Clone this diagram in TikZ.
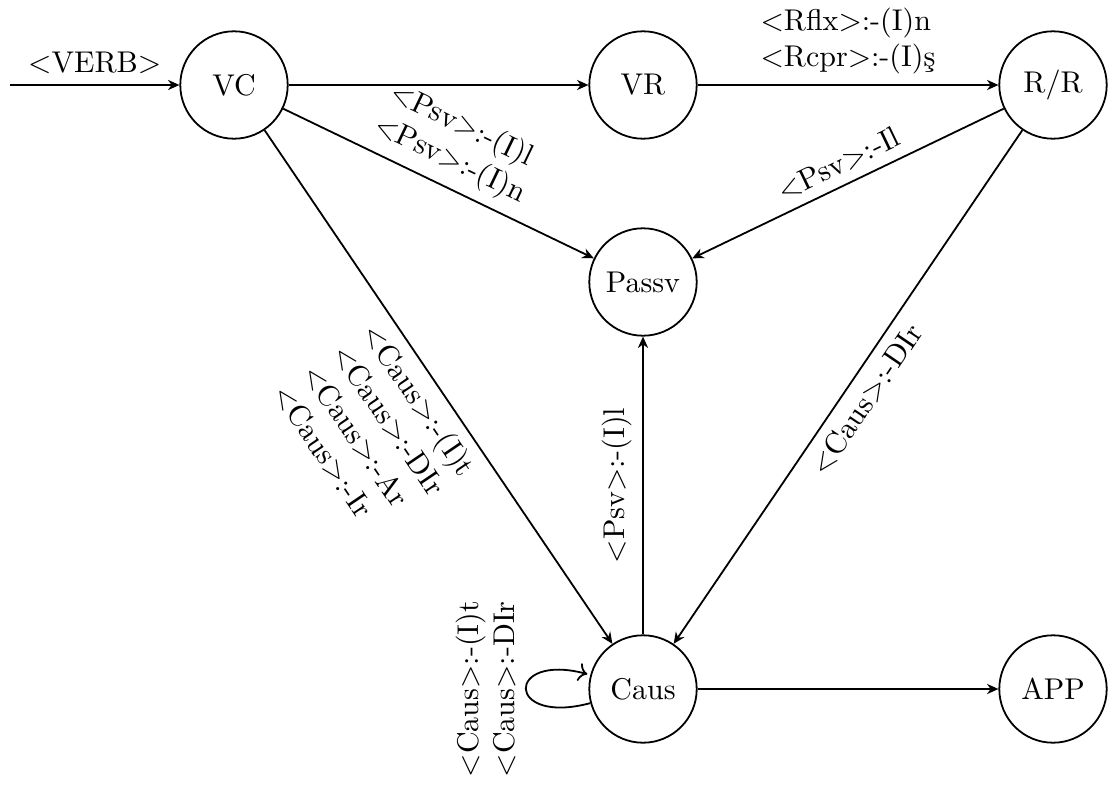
\documentclass[tikz,border=0pt]{standalone}
\usepackage{fontspec}
\usetikzlibrary{arrows.meta}

\begin{document}
\begin{tikzpicture}[x=0.3333pt,y=-0.3333pt,
  stnode/.style={circle,draw,line width=0.6pt,minimum size=35.8pt,inner sep=0pt},
  tr/.style={-{Stealth[length=3.8pt,width=3.4pt,inset=1.2pt]},line width=0.6pt},
  lab/.style={align=left}]
\useasboundingbox (0,0) rectangle (1111,785);

% states
\node[stnode] (vc)    at (234,85)   {VC};
\node[stnode] (vr)    at (643,85)   {VR};
\node[stnode] (rr)    at (1053,85)  {R/R};
\node[stnode] (passv) at (643,282)  {Passv};
\node[stnode] (caus)  at (643,689)  {Caus};
\node[stnode] (app)   at (1053,689) {APP};

% entry arrow
\coordinate (start) at (10,85);
\draw[tr] (start) -- node[above] {$<$VERB$>$} (vc);

% transitions
\draw[tr] (vc) -- (vr);
\draw[tr] (vr) -- node[above,lab] {$<$Rflx$>$:-(I)n\\$<$Rcpr$>$:-(I)ş} (rr);
\draw[tr] (vc) -- node[above,sloped,lab] {$<$Psv$>$:-(I)l\\$<$Psv$>$:-(I)n} (passv);
\draw[tr] (rr) -- node[above,sloped] {$<$Psv$>$:-Il} (passv);
\draw[tr] (vc) -- node[below,sloped,lab] {$<$Caus$>$:-(I)t\\$<$Caus$>$:-DIr\\$<$Caus$>$:-Ar\\$<$Caus$>$:-Ir} (caus);
\draw[tr] (rr) -- node[below,sloped] {$<$Caus$>$:-DIr} (caus);
\draw[tr] (caus) -- node[above,sloped] {$<$Psv$>$:-(I)l} (passv);
\draw[tr] (caus) -- (app);
\path (caus) edge[tr,loop left] node[rotate=90,anchor=south,lab] {$<$Caus$>$:-(I)t\\$<$Caus$>$:-DIr} ();
\end{tikzpicture}
\end{document}
